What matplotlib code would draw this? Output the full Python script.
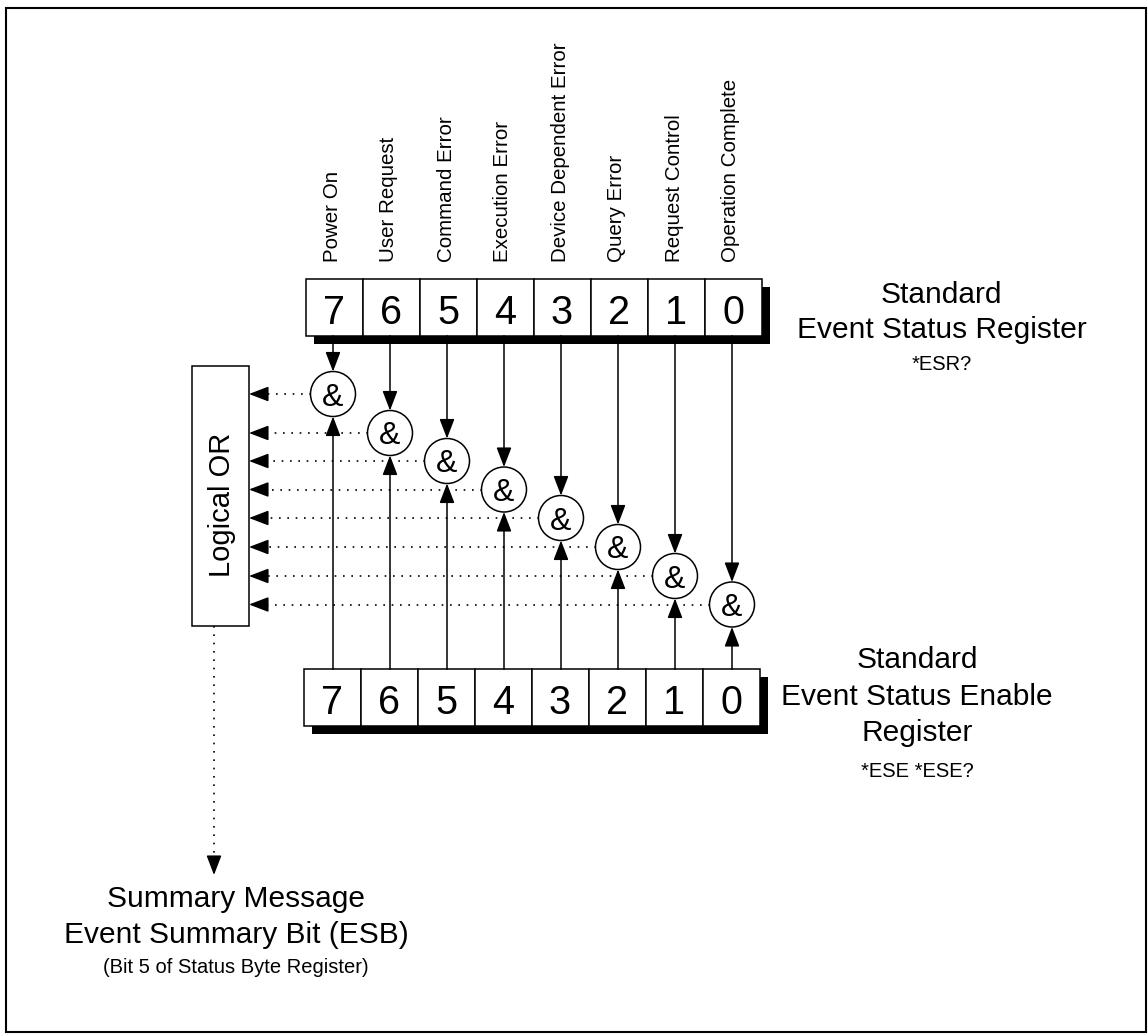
import matplotlib.pyplot as plt
from matplotlib.patches import Rectangle, Circle

plt.rcParams['font.family'] = ['Liberation Sans', 'DejaVu Sans']

# register bits, most significant first
bits = [7, 6, 5, 4, 3, 2, 1, 0]
bit_names = ['Power On', 'User Request', 'Command Error', 'Execution Error',
             'Device Dependent Error', 'Query Error', 'Request Control',
             'Operation Complete']
esr_title = ['Standard', 'Event Status Register']
esr_query = '*ESR?'
ese_title = ['Standard', 'Event Status Enable', 'Register']
ese_query = '*ESE *ESE?'
or_label = 'Logical OR'
summary_lines = ['Summary Message', 'Event Summary Bit (ESB)']
summary_note = '(Bit 5 of Status Byte Register)'

# layout in pixels, y pointing down
W, H = 1148, 1034
cell = 57
esr_x0, esr_y0 = 305.5, 279
ese_x0, ese_y0 = 303.5, 669
shadow = 8
gate_r = 22.5
gate_y = [394, 433, 461, 489.5, 518, 547, 576, 604.5]
or_x, or_y, or_w, or_h = 192, 366, 57, 260
head = 17
dots = (0, (1, 4))


def arrow_head(ax, x, y, dx, dy):
    # short solid arrow, tip at (x, y), coming from direction (dx, dy)
    ax.annotate('', xy=(x, y), xytext=(x + dx * head, y + dy * head),
                arrowprops=dict(arrowstyle='-|>,head_length=0.6,head_width=0.23',
                                mutation_scale=20, lw=1.1, color='black',
                                shrinkA=0, shrinkB=0), zorder=4)


def register(ax, x0, y0):
    ax.add_patch(Rectangle((x0 + shadow, y0 + shadow), cell * 8, cell,
                           facecolor='black', edgecolor='none', zorder=1))
    for i, b in enumerate(bits):
        ax.add_patch(Rectangle((x0 + i * cell, y0), cell, cell, facecolor='white',
                               edgecolor='black', lw=1.1, zorder=2))
        ax.text(x0 + (i + 0.5) * cell, y0 + 45.5, str(b), fontsize=28.5,
                ha='center', va='baseline', zorder=3)


fig = plt.figure(figsize=(W / 100, H / 100), dpi=100)
ax = fig.add_axes([0, 0, 1, 1])
ax.set_xlim(0, W)
ax.set_ylim(H, 0)
ax.axis('off')

# outer frame
ax.add_patch(Rectangle((6, 8), W - 8, H - 10, facecolor='none',
                       edgecolor='black', lw=1.5))

register(ax, esr_x0, esr_y0)
register(ax, ese_x0, ese_y0)

# bit names above the status register
for i, name in enumerate(bit_names):
    ax.text(esr_x0 + (i + 0.5) * cell - 2, 262, name, rotation=90, fontsize=14.8,
            ha='center', va='bottom')

# AND gates
for i, gy in enumerate(gate_y):
    gx = esr_x0 + (i + 0.5) * cell - 1
    ax.add_patch(Circle((gx, gy), gate_r, facecolor='white', edgecolor='black',
                        lw=1.1, zorder=3))
    ax.text(gx, gy + 11.5, '&', fontsize=23, ha='center', va='baseline', zorder=4)
    # from event register
    ax.plot([gx, gx], [esr_y0 + cell, gy - gate_r - head], color='black', lw=1.1, zorder=2)
    arrow_head(ax, gx, gy - gate_r, 0, -1)
    # from enable register
    ax.plot([gx, gx], [ese_y0, gy + gate_r + head], color='black', lw=1.1, zorder=2)
    arrow_head(ax, gx, gy + gate_r, 0, 1)
    # to logical OR
    ax.plot([gx - gate_r, or_x + or_w + head], [gy, gy], color='black', lw=1.2,
            ls=dots, zorder=2)
    arrow_head(ax, or_x + or_w, gy, 1, 0)

# logical OR box
ax.add_patch(Rectangle((or_x, or_y), or_w, or_h, facecolor='white',
                       edgecolor='black', lw=1.1, zorder=3))
ax.text(or_x + or_w / 2 + 1, 504.5, or_label, rotation=90, fontsize=21,
        ha='center', va='center', zorder=4)

# summary output
ax.plot([214, 214], [or_y + or_h, 875 - head], color='black', lw=1.2, ls=dots)
arrow_head(ax, 214, 875, 0, -1)

# register titles
for txt, yb in zip(esr_title, [303.3, 338.5]):
    ax.text(941.7, yb, txt, fontsize=21.5, ha='center', va='baseline')
ax.text(941.7, 370, esr_query, fontsize=14.5, ha='center', va='baseline')

for txt, yb in zip(ese_title, [668.3, 705, 741]):
    ax.text(917, yb, txt, fontsize=21.5, ha='center', va='baseline')
ax.text(917, 776.7, ese_query, fontsize=14.5, ha='center', va='baseline')

for txt, yb in zip(summary_lines, [906.7, 943.3]):
    ax.text(236, yb, txt, fontsize=21.5, ha='center', va='baseline')
ax.text(236, 972.7, summary_note, fontsize=14.5, ha='center', va='baseline')

fig.savefig('out.png', dpi=100)
